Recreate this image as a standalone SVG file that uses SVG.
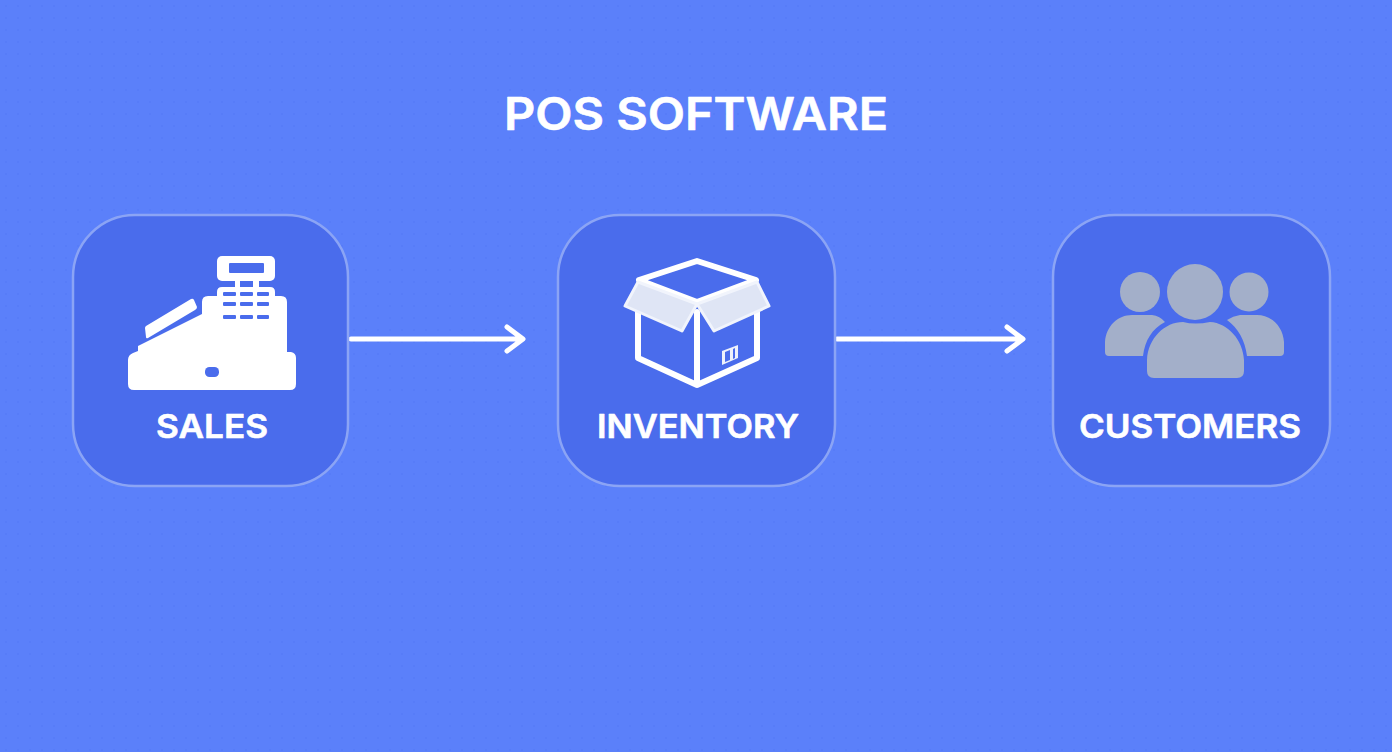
<svg xmlns="http://www.w3.org/2000/svg" width="1392" height="752" viewBox="0 0 1392 752">
<defs>
<pattern id="dots" width="12" height="12" patternUnits="userSpaceOnUse"><rect x="5" y="5" width="2" height="2" fill="#5076f2" opacity=".35"/></pattern>
</defs>
<style>
.card{fill:#4a6cec;stroke:#8ba4f5;stroke-width:2.5}
.lbl{font-family:"Inter","Liberation Sans",sans-serif;font-weight:600;fill:#fff;stroke:#fff;stroke-width:.6;stroke-linejoin:round;text-anchor:middle;font-size:33px}
.conn{fill:none;stroke:#fff;stroke-width:5;stroke-linecap:round;stroke-linejoin:round}
.w{fill:#fff}.b{fill:#4a6cec}.g{fill:#a3afc9}
.bx{fill:none;stroke:#fff;stroke-width:6;stroke-linejoin:round;stroke-linecap:round}
.fl{fill:#dfe5f5;stroke:#f1f4fc;stroke-width:3;stroke-linejoin:round}
</style>
<rect width="1392" height="752" fill="#5b80fa"/>
<rect width="1392" height="752" fill="url(#dots)"/>
<text id="title" x="696" y="130" class="lbl" style="font-size:45px" textLength="384" lengthAdjust="spacingAndGlyphs">POS SOFTWARE</text>
<g id="connectors">
<path class="conn" d="M351 339H522M507 327L523 339L507 351"/>
<path class="conn" d="M837 339H1022M1007 327L1023 339L1007 351"/>
</g>
<g id="sales">
<rect class="card" x="73" y="215" width="275" height="271" rx="62"/>
<rect class="w" x="217" y="256" width="58" height="25" rx="5"/>
<path class="w" d="M235 280H240V288H235ZM253 280H259V288H253Z"/>
<path class="w" d="M222 287H270Q275 287 275 292V300H217V292Q217 287 222 287Z"/>
<path class="w" d="M146 326L191 299Q193 298 194 300L197 307Q197 309 195 310L148 338Q146 339 146 337L145 328Q145 327 146 326Z"/>
<path class="w" d="M138 346V351L133 353Q128 355 128 360V384Q128 390 134 390H290Q296 390 296 384V358Q296 353 291 352H287V302Q287 296 281 296H208Q202 296 202 302V314Z"/>
<rect class="b" x="229" y="263" width="35" height="10" rx="1"/>
<g class="b">
<rect x="240" y="281" width="13" height="5"/>
<rect x="223" y="292" width="13" height="4" rx="1"/><rect x="240" y="292" width="13" height="4" rx="1"/><rect x="257" y="292" width="12" height="4" rx="1"/>
<rect x="223" y="302" width="13" height="4" rx="1"/><rect x="240" y="302" width="13" height="4" rx="1"/><rect x="257" y="302" width="12" height="4" rx="1"/>
<rect x="223" y="315" width="13" height="4" rx="1"/><rect x="240" y="315" width="13" height="4" rx="1"/><rect x="257" y="315" width="12" height="4" rx="1"/>
<rect x="205" y="367" width="14" height="10" rx="4.5"/>
</g>
<text x="212" y="438" class="lbl" textLength="112" lengthAdjust="spacingAndGlyphs">SALES</text>
</g>
<g id="inventory">
<rect class="card" x="558" y="215" width="277" height="271" rx="62"/>
<path class="bx" d="M697 261L639 280L697 302L756 280Z"/>
<path class="bx" d="M638 312V358L697 385L757 358V312M697 312V385"/>
<path class="fl" d="M638 282L697 304L682 331L625 306Z"/>
<path class="fl" d="M757 282L697 304L714 331L769 306Z"/>
<path d="M722 351L738 345V358L722 365Z" fill="#eef1fb"/>
<path d="M725 352L730 350V360L725 362ZM733 349L735 348V358L733 359Z" fill="#4a6cec"/>
<text x="698" y="438" class="lbl" textLength="202" lengthAdjust="spacingAndGlyphs">INVENTORY</text>
</g>
<g id="customers">
<rect class="card" x="1053" y="215" width="277" height="271" rx="62"/>
<circle class="g" cx="1140" cy="292" r="20"/>
<circle class="g" cx="1249" cy="292" r="19.5"/>
<path class="g" d="M1105 352V342C1106 326 1118 315 1132 315H1152Q1160 316 1165 322C1152 329 1145 340 1143 356H1109Q1105 356 1105 352Z"/>
<path class="g" d="M1284 352V342C1283 326 1271 315 1257 315H1240Q1233 316 1227 320C1238 328 1245 340 1247 356H1280Q1284 356 1284 352Z"/>
<circle class="g" cx="1195" cy="292" r="28"/>
<path class="g" d="M1147 371V360C1148 338 1165 322 1183 322Q1195 325 1210 322C1228 323 1243 340 1244 360V371Q1244 378 1237 378H1154Q1147 378 1147 371Z"/>
<text x="1190" y="438" class="lbl" textLength="222" lengthAdjust="spacingAndGlyphs">CUSTOMERS</text>
</g>
</svg>
